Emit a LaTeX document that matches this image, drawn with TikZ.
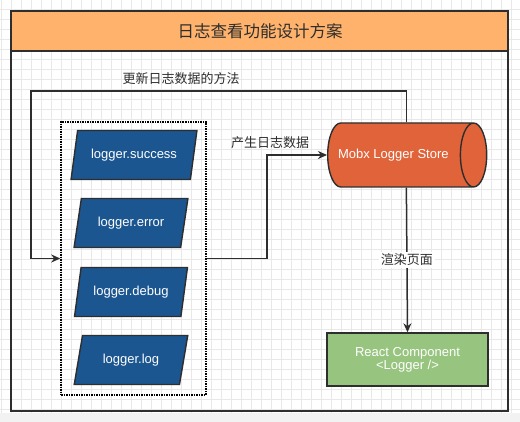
\documentclass[tikz,border=0pt]{standalone}
\usepackage{fontspec}
\setmainfont{Liberation Sans}
\newfontfamily\cjk{Noto Sans CJK SC}
\usepackage{xcolor}
\usetikzlibrary{shapes.geometric,arrows.meta,positioning}

\definecolor{inkline}{HTML}{2E2E2E}
\definecolor{headfill}{HTML}{FFB26B}
\definecolor{fnfill}{HTML}{1B5690}
\definecolor{storefill}{HTML}{E0633A}
\definecolor{viewfill}{HTML}{97C47E}

\begin{document}
\begin{tikzpicture}[x=1pt,y=-1pt,
    logfn/.style={trapezium,trapezium stretches=true,trapezium left angle=74,trapezium right angle=106,
      draw=inkline,line width=1.4pt,fill=fnfill,text=white,minimum width=114,minimum height=49,
      font=\fontsize{13}{15}\selectfont},
    store/.style={cylinder,shape aspect=1.4,draw=inkline,line width=1.4pt,fill=storefill,text=white,
      minimum width=64,minimum height=159,inner xsep=2pt,font=\fontsize{13}{15}\selectfont},
    view/.style={rectangle,draw=inkline,line width=1.4pt,fill=viewfill,text=white,align=center,
      minimum width=161,minimum height=53,font=\fontsize{13}{15}\selectfont},
    flow/.style={draw=inkline,line width=1.5pt,-{Stealth[length=9pt,width=8pt]}},
    lbl/.style={text=inkline,font=\cjk\fontsize{13}{15}\selectfont}]
    \useasboundingbox (0,0) rectangle (520,422);
    \fill[white] (0,0) rectangle (520,422);
    \draw[black!9,line width=0.5pt,shift={(1pt,1pt)}] (-1,-1) grid[step=10pt] (520,422);
    \fill[black!5] (0,413) rectangle (520,422);

    % frame and title
    \draw[inkline,line width=1.6pt,fill=headfill] (11,11) rectangle (508,51);
    \draw[inkline,line width=1.6pt] (11,51) rectangle (508,411);
    \node[lbl,font=\cjk\fontsize{16.5}{18}\selectfont] (title) at (260,31) {日志查看功能设计方案};

    % logger methods
    \node[draw=black,line width=1.5pt,densely dotted,minimum width=145,minimum height=273] (grp) at (133.5,258.5) {};
    \node[logfn,minimum width=126] (success) at (134,155) {logger.success};
    \node[logfn] (error) at (131,223) {logger.error};
    \node[logfn] (debug) at (131,292) {logger.debug};
    \node[logfn] (log) at (131,360) {logger.log};

    \node[store,anchor=west] (store) at (327,155) {Mobx Logger Store\hspace*{8pt}};
    \node[view] (react) at (407.5,359.5) {React Component\\[-2pt]<Logger />};

    \coordinate (upleft) at (31,91);
    \coordinate (mid) at (267,200);
    \draw[flow] ([xshift=9pt]store.north) |- (upleft) |- (grp.west);
    \draw[flow] (grp.east) -| (mid) |- (store.west);
    \draw[flow] ([xshift=9pt]store.south) -- (react.north)
      node[lbl,fill=white,inner sep=2pt,pos=0.5] (render) {渲染页面};

    \node[lbl] (update) at (181,79) {更新日志数据的方法};
    \node[lbl] (emit) at (270,143) {产生日志数据};
\end{tikzpicture}
\end{document}
